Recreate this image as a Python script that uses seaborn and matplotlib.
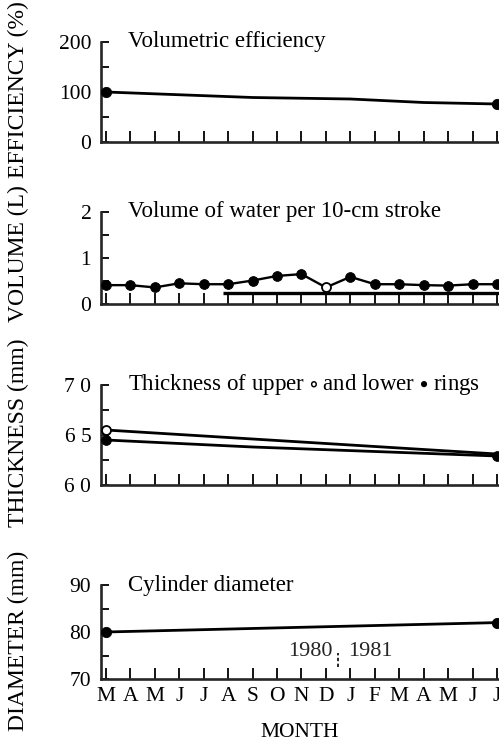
import matplotlib
matplotlib.use("Agg")
import matplotlib.pyplot as plt
import seaborn as sns
import pandas as pd

# ---------------- data ----------------
months = ["M", "A", "M", "J", "J", "A", "S", "O", "N", "D",
          "J", "F", "M", "A", "M", "J", "J"]

eff_idx = [0, 6, 10, 13, 16]
eff_val = [100, 89, 86, 79, 76]

vol_val = [0.41, 0.41, 0.36, 0.45, 0.43, 0.43, 0.51, 0.61, 0.65, 0.36,
           0.59, 0.43, 0.43, 0.41, 0.40, 0.43, 0.43]
vol_open_idx = [9]
vol_bar_start = 4.8
vol_bar_level = 0.23

thick_idx = [0, 6, 16]
thick_upper = [6.55, 6.46, 6.31]
thick_lower = [6.45, 6.38, 6.29]

diam_idx = [0, 16]
diam_val = [80, 82]

year_split = 9.5
year_labels = ["1980", "1981"]

panel_titles = ["Volumetric efficiency",
                "Volume of water per 10-cm stroke",
                r"Thickness of upper $\circ$ and lower $\bullet$ rings",
                "Cylinder diameter"]
panel_ylabels = ["EFFICIENCY (%)", "VOLUME (L)", "THICKNESS (mm)", "DIAMETER (mm)"]
ylims = [(0, 200), (0, 2), (6.0, 7.0), (70, 90)]
ymajor = [[0, 100, 200], [0, 1, 2], [6.0, 6.5, 7.0], [70, 80, 90]]
ymajor_labels = [["0", "100", "200"], ["0", "1", "2"], ["6 0", "6 5", "7 0"], ["70", "80", "90"]]
yminor = [[50, 150], [0.5, 1.5], [6.25, 6.75], [75, 85]]

# ---------------- style ----------------
sns.set_theme(style="ticks")
plt.rcParams["font.family"] = ["Liberation Serif", "DejaVu Serif"]
plt.rcParams["mathtext.fontset"] = "stix"

W, H = 499, 745
fig = plt.figure(figsize=(W / 100, H / 100), dpi=100)

# panel boxes in pixel coords (top, bottom)
boxes = [(42, 142), (212, 304), (385, 485), (585, 679)]
left_px = 101
axes = []
for (t, b) in boxes:
    ax = fig.add_axes([left_px / W, 1 - b / H, (W - left_px) / W, (b - t) / H])
    axes.append(ax)

n = len(months)
x_all = list(range(n))
LW = 1.9
for i, ax in enumerate(axes):
    ax.set_xlim(-0.2, 16.08)
    ax.set_ylim(*ylims[i])
    sns.despine(ax=ax)
    ax.spines["left"].set_linewidth(LW)
    ax.spines["bottom"].set_linewidth(LW)
    ax.set_xticks(x_all)
    ax.tick_params(axis="x", direction="in", length=8, width=1.3, pad=6,
                   labelsize=15.5, colors="black")
    ax.set_yticks(ymajor[i])
    ax.set_yticklabels(ymajor_labels[i])
    ax.set_yticks(yminor[i], minor=True)
    ax.tick_params(axis="y", which="both", direction="in", length=6, width=1.3,
                   pad=7, labelsize=15.5, colors="black")
    ax.set_facecolor("none")
    ax.text(0.068, 1.0, panel_titles[i], transform=ax.transAxes, ha="left",
            va="center", fontsize=16.5, color="black")
    if i < 3:
        ax.set_xticklabels([])
    else:
        ax.set_xticklabels(months)

# panel 1: efficiency
ax = axes[0]
df = pd.DataFrame({"m": eff_idx, "v": eff_val})
sns.lineplot(data=df, x="m", y="v", ax=ax, color="black", lw=2.0)
sns.scatterplot(data=df.iloc[[0, -1]], x="m", y="v", ax=ax, color="black",
                s=55, edgecolor="black", clip_on=False, zorder=5)

# panel 2: volume
ax = axes[1]
df = pd.DataFrame({"m": x_all, "v": vol_val})
sns.lineplot(data=df, x="m", y="v", ax=ax, color="black", lw=1.7)
filled = df[~df["m"].isin(vol_open_idx)]
opened = df[df["m"].isin(vol_open_idx)]
sns.scatterplot(data=filled, x="m", y="v", ax=ax, color="black", s=50,
                edgecolor="black", clip_on=False, zorder=5)
sns.scatterplot(data=opened, x="m", y="v", ax=ax, color="white", s=42,
                edgecolor="black", linewidth=1.3, clip_on=False, zorder=5)
ax.hlines(vol_bar_level, vol_bar_start, 16.08, color="black", lw=2.4)

# panel 3: thickness
ax = axes[2]
df_u = pd.DataFrame({"m": thick_idx, "v": thick_upper})
df_l = pd.DataFrame({"m": thick_idx, "v": thick_lower})
sns.lineplot(data=df_u, x="m", y="v", ax=ax, color="black", lw=2.0)
sns.lineplot(data=df_l, x="m", y="v", ax=ax, color="black", lw=2.0)
sns.scatterplot(data=df_l.iloc[[0, -1]], x="m", y="v", ax=ax, color="black",
                s=50, edgecolor="black", clip_on=False, zorder=5)
sns.scatterplot(data=df_u.iloc[[0]], x="m", y="v", ax=ax, color="white",
                s=42, edgecolor="black", linewidth=1.3, clip_on=False, zorder=6)

# panel 4: diameter
ax = axes[3]
df = pd.DataFrame({"m": diam_idx, "v": diam_val})
sns.lineplot(data=df, x="m", y="v", ax=ax, color="black", lw=2.0)
sns.scatterplot(data=df, x="m", y="v", ax=ax, color="black", s=55,
                edgecolor="black", clip_on=False, zorder=5)
ax.vlines(year_split, 72.6, 75.6, color="black", lw=1.2, linestyles=(0, (2, 1.5)))
ax.annotate(year_labels[0], (year_split, 75.8), xytext=(-4, 0),
            textcoords="offset points", ha="right", va="center", fontsize=16)
ax.annotate(year_labels[1], (year_split, 75.8), xytext=(7, 0),
            textcoords="offset points", ha="left", va="center", fontsize=16)

for ax in axes:
    ax.set_ylabel("")
    ax.set_xlabel("")
axes[3].set_xlabel("MONTH", fontsize=15.5, labelpad=12, color="black")

ylab_centers = [90, 254, 433, 641]
for lab, yc in zip(panel_ylabels, ylab_centers):
    fig.text(18 / W, 1 - yc / H, lab, rotation=90, ha="center", va="center",
             fontsize=17, color="black")

fig.savefig("out.png", dpi=100)
